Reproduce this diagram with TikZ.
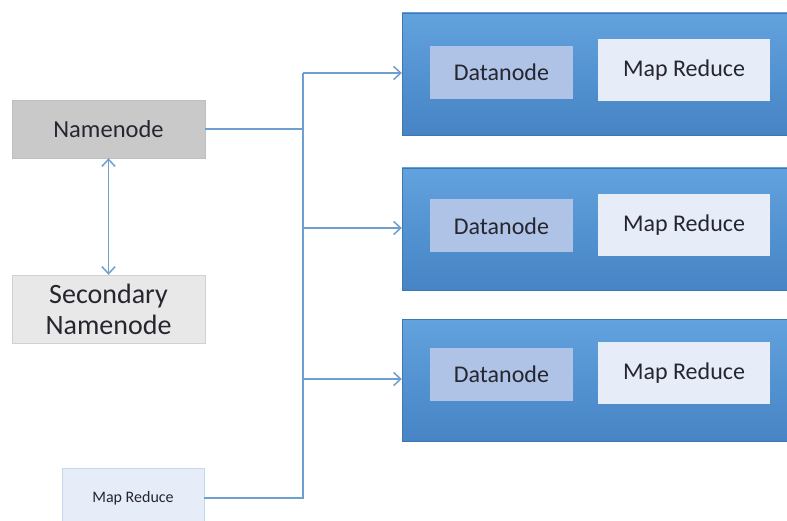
\documentclass[tikz,border=0pt]{standalone}
\usepackage{fontspec}
\setmainfont{Carlito}
\usetikzlibrary{arrows.meta}
\definecolor{conn}{HTML}{6E9FCF}
\definecolor{bluetop}{HTML}{62A2DD}
\definecolor{bluebot}{HTML}{4684C5}
\definecolor{dnfill}{HTML}{AFC3E6}
\definecolor{mrfill}{HTML}{E6EDF8}
\definecolor{txt}{HTML}{262630}
\tikzset{
  nnbox/.style={draw=black!25, fill=black!21, text=txt, minimum width=193pt, minimum height=58pt, inner sep=0pt, font=\fontsize{24.5}{27}\selectfont},
  snbox/.style={draw=black!18, fill=black!9, text=txt, minimum width=193pt, minimum height=68pt, inner sep=0pt, align=center, font=\fontsize{28}{31}\selectfont},
  mrsmall/.style={draw=conn!40, fill=mrfill, text=txt, minimum width=142pt, minimum height=60pt, inner sep=0pt, font=\fontsize{16}{19}\selectfont},
  bluebox/.style={draw=bluebot!90!black, top color=bluetop, bottom color=bluebot, minimum width=398pt, minimum height=122pt, inner sep=0pt},
  dnbox/.style={fill=dnfill, text=txt, minimum width=143pt, minimum height=53pt, inner sep=0pt, font=\fontsize{24}{27}\selectfont},
  mrbox/.style={fill=mrfill, text=txt, minimum width=172pt, minimum height=62pt, inner sep=0pt, font=\fontsize{24}{27}\selectfont},
  link/.style={draw=conn, line width=1.5pt},
  arr/.style={link, -{Straight Barb[length=7pt,width=13pt]}},
  darr/.style={link, {Straight Barb[length=7pt,width=13pt]}-{Straight Barb[length=7pt,width=13pt]}}
}
\begin{document}
\begin{tikzpicture}[x=1pt,y=-1pt]
\clip (0,0) rectangle (787,521);
\fill[white] (0,0) rectangle (787,521);
\node[nnbox] (nn) at (108.5,129) {Namenode};
\node[snbox] (sn) at (108.5,309) {Secondary\\Namenode};
\node[mrsmall] (mrs) at (133,498) {Map Reduce};
\node[bluebox] (b1) at (601,74) {};
\node[bluebox] (b2) at (601,229) {};
\node[bluebox] (b3) at (601,380.5) {};
\node[dnbox] (d1) at (501.5,72.5) {Datanode};
\node[dnbox] (d2) at (501.5,226) {Datanode};
\node[dnbox] (d3) at (501.5,374.5) {Datanode};
\node[mrbox] (m1) at (684,70) {Map Reduce};
\node[mrbox] (m2) at (684,225) {Map Reduce};
\node[mrbox] (m3) at (684,373) {Map Reduce};
\coordinate (j1) at (303,73);
\coordinate (j2) at (303,228);
\coordinate (j3) at (303,379);
\coordinate (jb) at (303,498);
\draw[darr] (nn.south) -- (sn.north);
\draw[link] (nn.east) -- (nn.east -| j1);
\draw[link] (mrs.east) -- (jb) -- (j1);
\draw[arr] (j1) -- (j1 -| b1.west);
\draw[arr] (j2) -- (j2 -| b2.west);
\draw[arr] (j3) -- (j3 -| b3.west);
\end{tikzpicture}
\end{document}
